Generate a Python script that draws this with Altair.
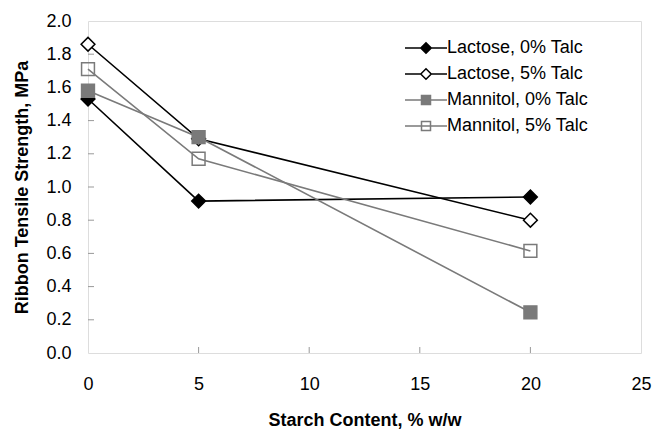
import altair as alt
import pandas as pd

# ---- data ----
starch = [0, 5, 20]
series_names = ["Lactose, 0% Talc", "Lactose, 5% Talc", "Mannitol, 0% Talc", "Mannitol, 5% Talc"]
materials = ["Lactose", "Lactose", "Mannitol", "Mannitol"]
lactose_0 = [1.53, 0.915, 0.94]
lactose_5 = [1.86, 1.29, 0.80]
mannitol_0 = [1.58, 1.30, 0.245]
mannitol_5 = [1.71, 1.17, 0.615]
x_ticks = [0, 5, 10, 15, 20, 25]
y_ticks = [0.0, 0.2, 0.4, 0.6, 0.8, 1.0, 1.2, 1.4, 1.6, 1.8, 2.0]

# ---- styles ----
FONT = "Liberation Sans"
GREY = "#7a7a7a"
stroke_cols = ["#000000", "#000000", GREY, GREY]
fill_cols = ["#000000", "#ffffff", GREY, "transparent"]
plot_shapes = ["diamond", "diamond", "square", "square"]
plot_sizes = [190, 190, 165, 165]
legend_paths = [
    "M-4.2,0H-1.05M1.05,0H4.2M-1.05,0L0,-1.05L1.05,0L0,1.05Z",
    "M-4.2,0H-1.05M1.05,0H4.2M-1.05,0L0,-1.05L1.05,0L0,1.05Z",
    "M-4.2,0H4.2M-0.9,-0.9H0.9V0.9H-0.9Z",
    "M-4.2,0H4.2M-0.9,-0.9H0.9V0.9H-0.9Z",
]

rows = []
for name, mat, vals in zip(series_names, materials, [lactose_0, lactose_5, mannitol_0, mannitol_5]):
    for xv, yv in zip(starch, vals):
        rows.append({"series": name, "material": mat, "x": xv, "y": yv})
df = pd.DataFrame(rows)

W, H = 553, 332

xscale = alt.Scale(domain=[0, 25], nice=False, zero=False)
yscale = alt.Scale(domain=[0, 2], nice=False, zero=False)

x_axis = alt.Axis(values=x_ticks, format="d", ticks=False, domain=False, grid=False,
                  labelFontSize=18, labelFont=FONT, labelColor="#000", labelPadding=22,
                  labelFlush=False,
                  title="Starch Content, % w/w", titleFontSize=18, titleFont=FONT,
                  titleFontWeight="bold", titleColor="#000", titleX=W / 2, titleY=67,
                  titleAlign="center", titleBaseline="middle")
y_axis = alt.Axis(values=y_ticks, format=".1f", ticks=False, domain=False, grid=False,
                  labelFontSize=18, labelFont=FONT, labelColor="#000", labelPadding=17,
                  labelFlush=False,
                  title="Ribbon Tensile Strength, MPa", titleFontSize=18, titleFont=FONT,
                  titleFontWeight="bold", titleColor="#000", titleX=-66, titleY=H / 2,
                  titleAngle=270, titleAlign="center", titleBaseline="middle")

X = alt.X("x:Q", scale=xscale, axis=x_axis)
Y = alt.Y("y:Q", scale=yscale, axis=y_axis)

base = alt.Chart(df)

lines = base.mark_line(strokeWidth=1.6).encode(
    x=X, y=Y,
    detail="series:N",
    color=alt.Color("material:N", legend=None,
                    scale=alt.Scale(domain=["Lactose", "Mannitol"], range=["#000000", GREY])),
)

point_layers = []
for i, name in enumerate(series_names):
    point_layers.append(
        base.transform_filter(alt.datum.series == name).mark_point(
            shape=plot_shapes[i], size=plot_sizes[i], filled=False,
            fill=fill_cols[i], stroke=stroke_cols[i], strokeWidth=1.5, opacity=1,
        ).encode(x=X, y=Y)
    )

legend_layer = base.mark_point(opacity=0, filled=False, strokeWidth=1.5).encode(
    x=X, y=Y,
    shape=alt.Shape("series:N", scale=alt.Scale(domain=series_names, range=legend_paths),
                    legend=alt.Legend(title=None, orient="none", legendX=329, legendY=18,
                                      padding=0, symbolSize=100, symbolStrokeWidth=1.5,
                                      symbolOpacity=1, labelFontSize=18, labelFont=FONT,
                                      labelColor="#000", labelOffset=12, rowPadding=8,
                                      labelLimit=300)),
    fill=alt.Fill("series:N", scale=alt.Scale(domain=series_names, range=fill_cols)),
    stroke=alt.Stroke("series:N", scale=alt.Scale(domain=series_names, range=stroke_cols)),
)

ytick_df = pd.DataFrame({"y": y_ticks[1:-1]})
xtick_df = pd.DataFrame({"x": x_ticks[1:-1]})
yticks = alt.Chart(ytick_df).mark_rule(color="#999999", strokeWidth=1).encode(
    y=Y, x=alt.value(0), x2=alt.value(6))
xticks = alt.Chart(xtick_df).mark_rule(color="#999999", strokeWidth=1).encode(
    x=X, y=alt.value(H), y2=alt.value(H - 6))

chart = alt.layer(yticks, xticks, lines, *point_layers, legend_layer).properties(
    width=W, height=H,
    autosize=alt.AutoSizeParams(type="none"),
    padding={"left": 88, "top": 21, "right": 13, "bottom": 76},
).configure_view(
    stroke="#000000", strokeWidth=1.5
).configure(background="white")

chart.save("out.html", embed_options={"renderer": "svg", "actions": False})
